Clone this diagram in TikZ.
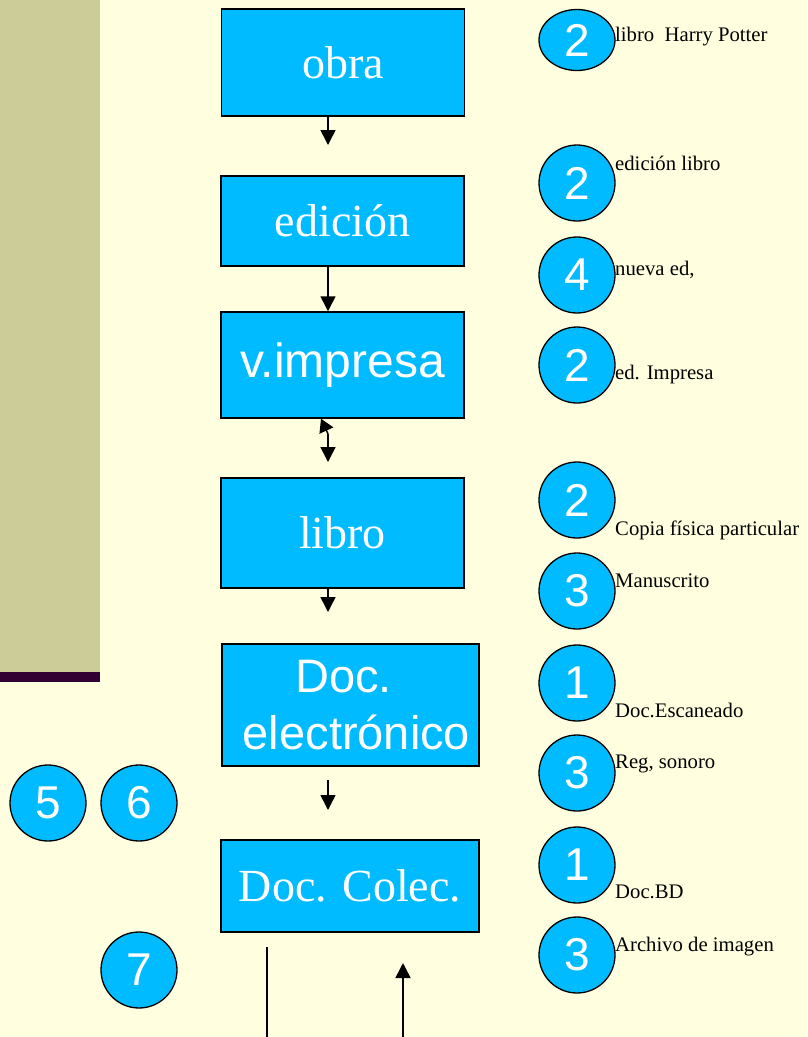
\documentclass[tikz,border=0pt]{standalone}
\usepackage{fontspec}
\setmainfont{Liberation Serif}
\setsansfont{Liberation Sans}
\usetikzlibrary{shapes.geometric,positioning,arrows.meta}

\definecolor{fondo}{HTML}{FFFFE0}
\definecolor{azul}{HTML}{00BBFF}
\definecolor{caqui}{HTML}{CCCC99}
\definecolor{morado}{HTML}{330033}

\begin{document}
\begin{tikzpicture}[x=1pt, y=-1pt,
  caja/.style = {draw=black, line width=1.5pt, fill=azul, text=white, inner sep=0pt,
                 minimum width=243pt, font=\fontsize{46}{50}\selectfont},
  num/.style = {circle, draw=black, line width=1.3pt, fill=azul, text=white, inner sep=0pt,
                minimum size=76pt, font=\sffamily\fontsize{46}{46}\selectfont},
  nota/.style = {anchor=base west, inner sep=0pt, font=\fontsize{20.7}{24}\selectfont},
  flecha/.style = {line width=1.5pt, -{Triangle[length=15pt,width=15pt]}}]

  % page and side bar
  \fill[fondo] (0,0) rectangle (807,1037);
  \useasboundingbox (0,0) rectangle (807,1037);
  \fill[caqui] (0,0) rectangle (100,672);
  \fill[morado] (0,672) rectangle (100,682);

  % the chain of boxes
  \node[caja, minimum height=107pt] (obra) at (343,62.5) {obra};
  \node[caja, minimum height=90pt] (edicion) at (342.5,221) {edición};
  \node[caja, minimum height=106pt, font=\sffamily\fontsize{48}{50}\selectfont] (vimpresa) at (342.5,365) {v.impresa};
  \node[caja, minimum height=110pt] (libro) at (342.5,533) {libro};
  \node[caja, minimum width=257pt, minimum height=122pt, align=center,
        font=\sffamily\fontsize{47}{57}\selectfont] (docelec) at (350.5,705)
        {Doc.\hspace*{14pt}\\ \hspace*{12pt}electrónico};
  \node[caja, minimum width=258pt, minimum height=92pt] (doccolec) at (350,886) {Doc. Colec.};

  % arrows
  \coordinate (o1) at (328,145);
  \draw[flecha] (obra.south -| o1) -- (o1);
  \draw[flecha] (edicion.south -| o1) -- (vimpresa.north -| o1);
  \coordinate (v0) at (321,0);
  \coordinate (v1) at (328,434);
  \coordinate (v2) at (328,462);
  \draw[flecha, -{Triangle[length=13pt,width=15pt]}] (v1) -- (vimpresa.south -| v0);
  \draw[flecha] (v1) -- (v2);
  \coordinate (l1) at (328,612);
  \draw[flecha] (libro.south -| l1) -- (l1);
  \coordinate (e1) at (328,780);
  \coordinate (e2) at (328,810);
  \draw[flecha] (e1) -- (e2);
  \coordinate (c1) at (267,947);
  \coordinate (c2) at (267,1038.5);
  \coordinate (c3) at (403,1038.5);
  \coordinate (c4) at (403,963);
  \draw[flecha] (c1) -- (c2) -- (c3) -- (c4);

  % numbered circles and notes
  \node[num, ellipse, minimum width=76pt, minimum height=61pt] (n1) at (577,40) {2};
  \node[nota] (t1) at (615,41) {libro\ \ Harry Potter};
  \node[num] (n2) at (577,183) {2};
  \node[nota] (t2) at (615,170) {edición libro};
  \node[num] (n3) at (577,275) {4};
  \node[nota] (t3) at (615,275) {nueva ed,};
  \node[num] (n4) at (577,365) {2};
  \node[nota] (t4) at (615,379) {ed. Impresa};
  \node[num] (n5) at (577,500) {2};
  \node[nota] (t5) at (615,535) {Copia física particular};
  \node[num] (n6) at (577,591) {3};
  \node[nota] (t6) at (615,587) {Manuscrito};
  \node[num] (n7) at (577,683) {1};
  \node[nota] (t7) at (615,717) {Doc.Escaneado};
  \node[num] (n8) at (577,773) {3};
  \node[nota] (t8) at (615,768) {Reg, sonoro};
  \node[num] (n9) at (577,865) {1};
  \node[nota] (t9) at (615,898) {Doc.BD};
  \node[num] (n10) at (577,955) {3};
  \node[nota] (t10) at (615,951) {Archivo de imagen};

  \node[num] (n11) at (48,803) {5};
  \node[num] (n12) at (139,803) {6};
  \node[num] (n13) at (139,970) {7};
\end{tikzpicture}
\end{document}
